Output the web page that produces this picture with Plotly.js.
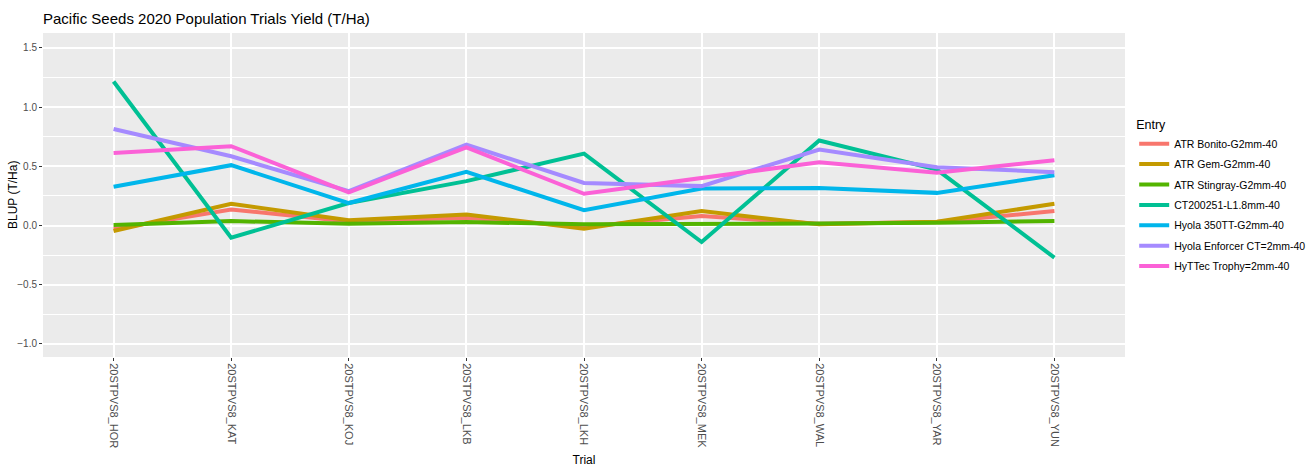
<!DOCTYPE html>
<html>
<head>
<meta charset="utf-8">
<script src="https://cdn.plot.ly/plotly-3.0.1.min.js"></script>
<style>
  html, body { margin: 0; padding: 0; background: #ffffff; }
  #data { width: 1315px; height: 475px; }
</style>
</head>
<body>
<div id="data"></div>
<script>
var trials = ['20STPVS8_HOR', '20STPVS8_KAT', '20STPVS8_KOJ', '20STPVS8_LKB', '20STPVS8_LKH',
  '20STPVS8_MEK', '20STPVS8_WAL', '20STPVS8_YAR', '20STPVS8_YUN'];

var entries = ['ATR Bonito-G2mm-40', 'ATR Gem-G2mm-40', 'ATR Stingray-G2mm-40', 'CT200251-L1.8mm-40',
  'Hyola 350TT-G2mm-40', 'Hyola Enforcer CT=2mm-40', 'HyTTec Trophy=2mm-40'];

var entryColors = ['#F8766D', '#C49A00', '#53B400', '#00C094', '#00B6EB', '#A58AFF', '#FB61D7'];

var bonito = [-0.03, 0.136, 0.035, 0.066, -0.01, 0.08, 0.015, 0.03, 0.122];
var gem = [-0.046, 0.184, 0.044, 0.094, -0.027, 0.122, 0.01, 0.032, 0.184];
var stingray = [0.004, 0.038, 0.015, 0.03, 0.01, 0.018, 0.018, 0.024, 0.038];
var ct200251 = [1.217, -0.103, 0.19, 0.375, 0.608, -0.139, 0.718, 0.473, -0.271];
var hyola350 = [0.327, 0.51, 0.19, 0.453, 0.13, 0.313, 0.318, 0.276, 0.425];
var enforcer = [0.815, 0.585, 0.29, 0.684, 0.36, 0.333, 0.642, 0.493, 0.451];
var trophy = [0.613, 0.67, 0.28, 0.66, 0.268, 0.403, 0.535, 0.445, 0.552];

var yTickVals = [-1.0, -0.5, 0.0, 0.5, 1.0, 1.5];

var seriesValues = [bonito, gem, stingray, ct200251, hyola350, enforcer, trophy];

var fontFamily = 'Liberation Sans, Arial, sans-serif';

var traces = entries.map(function (name, i) {
  return {
    x: trials,
    y: seriesValues[i],
    type: 'scatter',
    mode: 'lines',
    name: name,
    legendgroup: 'g' + i,
    line: {
      color: entryColors[i],
      width: 4
    },
    hoverinfo: 'x+y+name'
  };
});

var layout = {
  width: 1315,
  height: 475,
  margin: {
    l: 43,
    r: 190,
    t: 33,
    b: 118,
    pad: 0
  },
  font: {
    family: fontFamily,
    color: '#000000'
  },
  paper_bgcolor: '#ffffff',
  plot_bgcolor: '#EBEBEB',
  title: {
    text: 'Pacific Seeds 2020 Population Trials Yield (T/Ha)',
    font: {
      size: 15,
      color: '#000000'
    },
    x: 0,
    xref: 'paper',
    xanchor: 'left',
    y: 0.96,
    yanchor: 'middle'
  },
  annotations: [{
    text: 'BLUP (T/Ha)',
    textangle: -90,
    xref: 'paper',
    yref: 'paper',
    x: 0,
    y: 0.5,
    xanchor: 'center',
    yanchor: 'middle',
    xshift: -30,
    showarrow: false,
    font: {
      size: 12,
      color: '#000000'
    }
  }],
  xaxis: {
    type: 'category',
    range: [-0.6, trials.length - 1 + 0.6],
    title: {
      text: 'Trial',
      font: {
        size: 12,
        color: '#000000'
      },
      standoff: 8
    },
    tickangle: 90,
    tickfont: {
      size: 11,
      color: '#4D4D4D'
    },
    ticks: 'outside',
    ticklen: 3,
    tickwidth: 1,
    tickcolor: '#333333',
    showgrid: true,
    gridcolor: '#ffffff',
    gridwidth: 1.6,
    showline: false,
    zeroline: false,
    fixedrange: true
  },
  yaxis: {
    range: [-1.11, 1.626],
    tickvals: yTickVals,
    tickformat: '.1f',
    tickfont: {
      size: 10,
      color: '#4D4D4D'
    },
    ticks: 'outside',
    ticklen: 3,
    tickwidth: 1,
    tickcolor: '#333333',
    showgrid: true,
    gridcolor: '#ffffff',
    gridwidth: 1.6,
    minor: {
      dtick: 0.25,
      tick0: 0.25,
      showgrid: true,
      gridcolor: '#ffffff',
      gridwidth: 0.8
    },
    showline: false,
    zeroline: false,
    fixedrange: true
  },
  legend: {
    title: {
      text: 'Entry',
      font: {
        size: 12.5,
        color: '#000000'
      }
    },
    font: {
      size: 10.5,
      color: '#000000'
    },
    xref: 'container',
    x: 0.8625,
    xanchor: 'left',
    y: 0.494,
    yanchor: 'middle',
    bgcolor: 'rgba(255,255,255,0)',
    borderwidth: 0,
    itemwidth: 30,
    tracegroupgap: 1.4
  },
  showlegend: true
};

var config = {
  responsive: false,
  displayModeBar: false,
  staticPlot: false
};

Plotly.newPlot('data', traces, layout, config);
</script>
</body>
</html>
